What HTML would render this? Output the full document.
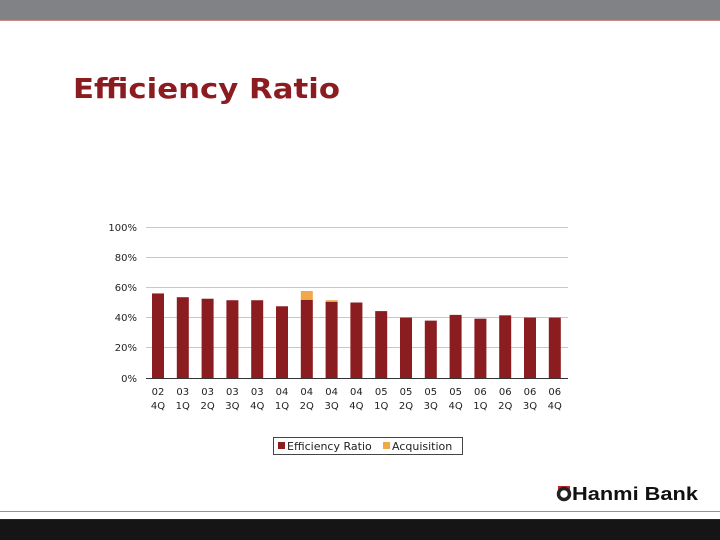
<!DOCTYPE html>
<html><head><meta charset="utf-8"><style>body{margin:0;background:#fff}svg{display:block}</style></head><body>
<svg width="720" height="540" xmlns="http://www.w3.org/2000/svg" font-family="DejaVu Sans, Verdana, sans-serif">
<rect x="0" y="0" width="720" height="20" fill="#808285"/>
<rect x="0" y="20" width="720" height="1" fill="#c98a8a"/>
<text x="73" y="98" font-size="28" font-weight="bold" fill="#8b1c20" textLength="267" lengthAdjust="spacingAndGlyphs">Efficiency Ratio</text>
<g stroke="#c8c8c8" stroke-width="1">
<line x1="146" y1="227.5" x2="568" y2="227.5"/>
<line x1="146" y1="257.5" x2="568" y2="257.5"/>
<line x1="146" y1="287.5" x2="568" y2="287.5"/>
<line x1="146" y1="317.5" x2="568" y2="317.5"/>
<line x1="146" y1="347.5" x2="568" y2="347.5"/>
</g>
<line x1="146" y1="378.5" x2="568" y2="378.5" stroke="#333" stroke-width="1"/>
<g font-size="10" fill="#222" text-anchor="end">
<text x="137" y="231">100%</text><text x="137" y="261">80%</text><text x="137" y="291">60%</text><text x="137" y="321">40%</text><text x="137" y="351">20%</text><text x="137" y="382">0%</text>
</g>
<g id="bars"></g>
<g id="labels" font-size="10" fill="#222" text-anchor="middle"></g>
<rect x="273.5" y="437.5" width="189" height="17" fill="#fff" stroke="#444"/>
<rect x="278" y="442" width="7" height="7" fill="#8b1c20"/>
<text x="287" y="450" font-size="11" fill="#222">Efficiency Ratio</text>
<rect x="383" y="442" width="7" height="7" fill="#f0a848"/>
<text x="392" y="450" font-size="11" fill="#222">Acquisition</text>
<path d="M558 486 h12 v4 h-12z" fill="#c0272d"/>
<circle cx="564" cy="494" r="5.5" fill="none" stroke="#222" stroke-width="3.5"/>
<text x="572" y="500" font-size="18" font-weight="bold" fill="#111" font-family="Liberation Sans, Arial, sans-serif" textLength="126" lengthAdjust="spacingAndGlyphs">Hanmi Bank</text>
<rect x="0" y="511" width="720" height="1" fill="#c08080"/>
<rect x="0" y="519" width="720" height="21" fill="#151515"/>
<rect x="0" y="519" width="720" height="1" fill="#5a1010"/>
</svg>
<script>
var v=[56,53.5,52.5,51.5,51.5,47.5,51.8,50.5,50,44.3,40,38,41.8,39.3,41.5,40,40];
var a=[0,0,0,0,0,0,5.8,1,0,0,0,0,0,0,0,0,0];
var l=[["02","4Q"],["03","1Q"],["03","2Q"],["03","3Q"],["03","4Q"],["04","1Q"],["04","2Q"],["04","3Q"],["04","4Q"],["05","1Q"],["05","2Q"],["05","3Q"],["05","4Q"],["06","1Q"],["06","2Q"],["06","3Q"],["06","4Q"]];
var ns="http://www.w3.org/2000/svg",b=document.getElementById("bars"),lb=document.getElementById("labels");
function r(x,y,w,h,f){var e=document.createElementNS(ns,"rect");e.setAttribute("x",x);e.setAttribute("y",y);e.setAttribute("width",w);e.setAttribute("height",h);e.setAttribute("fill",f);b.appendChild(e);}
for(var i=0;i<17;i++){var cx=158+i*24.8,h=v[i]*1.51;r(cx-6,378-h,12,h,"#8b1c20");if(a[i]){var h2=a[i]*1.51;r(cx-6,378-h-h2,12,h2,"#f0a848");}
for(var j=0;j<2;j++){var t=document.createElementNS(ns,"text");t.setAttribute("x",cx);t.setAttribute("y",395+j*14);t.textContent=l[i][j];lb.appendChild(t);}}
</script>
</body></html>
